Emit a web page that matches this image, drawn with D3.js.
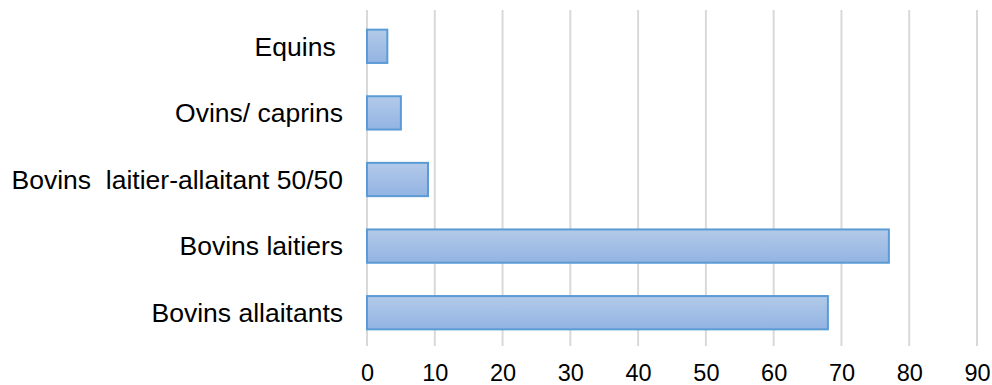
<!DOCTYPE html>
<html><head><meta charset="utf-8">
<script src="https://cdn.jsdelivr.net/npm/d3@7"></script>
<style>body{margin:0;background:#fff}text{white-space:pre}</style>
</head><body>
<svg id="c" width="992" height="385"></svg>
<script>
const categories = ["Equins ", "Ovins/ caprins", "Bovins  laitier-allaitant 50/50", "Bovins laitiers", "Bovins allaitants"];
const values = [3, 5, 9, 77, 68];
const ticks = [0, 10, 20, 30, 40, 50, 60, 70, 80, 90];

(function () {
const svg = d3.select("#c");
const mLeft = 367, mRight = 977, mTop = 13, mBottom = 346;
const fs = 26.5;
const x = d3.scaleLinear().domain([0, 90]).range([mLeft, mRight]);
const y = d3.scaleBand().domain(categories).range([mTop, mBottom]).paddingInner(0.5).paddingOuter(0.25);

const defs = svg.append("defs");
const g = defs.append("linearGradient").attr("id", "grad").attr("x1", 0).attr("y1", 0).attr("x2", 0).attr("y2", 1);
g.append("stop").attr("offset", "0%").attr("stop-color", "#b3cae9");
g.append("stop").attr("offset", "100%").attr("stop-color", "#92b3e2");

svg.append("g").selectAll("line").data(ticks).join("line")
  .attr("x1", d => x(d)).attr("x2", d => x(d))
  .attr("y1", 10).attr("y2", 346)
  .attr("stroke", "#d9d9d9").attr("stroke-width", 2);

svg.append("g").selectAll("rect").data(values).join("rect")
  .attr("x", x(0)).attr("y", (d, i) => y(categories[i]))
  .attr("width", d => x(d) - x(0)).attr("height", y.bandwidth())
  .attr("fill", "url(#grad)").attr("stroke", "#5b9bd5").attr("stroke-width", 2);

const axis = d3.axisBottom(x).tickValues(ticks).tickSize(0).tickPadding(0);
const ax = svg.append("g").attr("transform", `translate(0,${mBottom})`).call(axis);
ax.select(".domain").remove();
ax.selectAll("text").attr("dy", null).attr("y", 34.5)
  .attr("font-family", "Liberation Sans, Arial, sans-serif").attr("font-size", 23.5).attr("fill", "#000");

const ay = d3.axisLeft(y).tickSize(0).tickPadding(0);
const gy = svg.append("g").attr("transform", `translate(343,0)`).call(ay);
gy.select(".domain").remove();
gy.selectAll("text").attr("x", 0).attr("dy", "0.35em")
  .attr("font-family", "Liberation Sans, Arial, sans-serif").attr("font-size", fs).attr("fill", "#000");
})();
</script>
</body></html>
